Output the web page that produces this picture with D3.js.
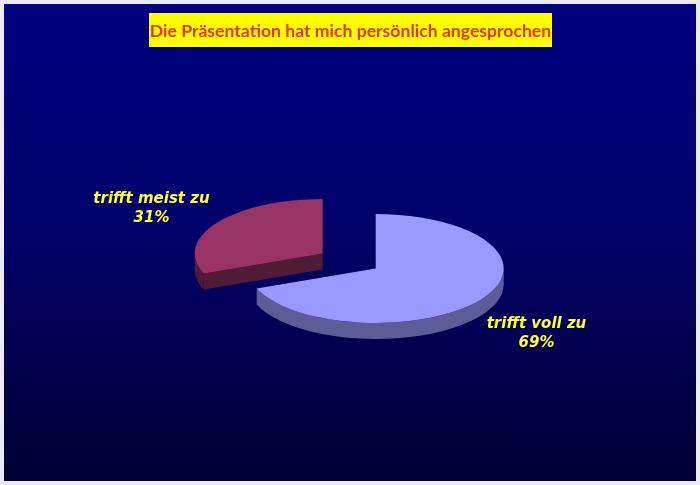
<!DOCTYPE html>
<html><head><meta charset="utf-8">
<script src="https://cdn.jsdelivr.net/npm/d3@7"></script>
<style>html,body{margin:0;padding:0;background:#eceaf6;overflow:hidden}svg{display:block;filter:blur(0.4px)}</style>
</head><body><svg id="c" width="700" height="485"></svg>
<script>
const titleText = "Die Präsentation hat mich persönlich angesprochen";
const categories = ["trifft voll zu", "trifft meist zu"];
const percents = [69, 31];
const topColors = ["#9999ff", "#993366"];
const sideColors = ["#5c5c99", "#4f1b35"];

const svg = d3.select("#c");
svg.append("rect").attr("width",700).attr("height",485).attr("fill","#eceaf6");
const defs = svg.append("defs");
const g = defs.append("linearGradient").attr("id","bg").attr("x1",0).attr("x2",0).attr("y1",0).attr("y2",1);
g.append("stop").attr("offset",0).attr("stop-color","#00007f");
g.append("stop").attr("offset",0.45).attr("stop-color","#00006a");
g.append("stop").attr("offset",1).attr("stop-color","#000035");
svg.append("rect").attr("x",4).attr("y",4).attr("width",692).attr("height",477).attr("fill","url(#bg)");

svg.append("rect").attr("x",149).attr("y",13).attr("width",403).attr("height",34).attr("fill","#ffff00");
svg.append("text").attr("x",350.5).attr("y",36.5).attr("text-anchor","middle")
  .attr("font-family","Lato,sans-serif").attr("font-weight",700).attr("font-size",17.6)
  .attr("fill","#e8330c").text(titleText);

const R = 128, squash = 54.5/128, depth = 16;
const pie = d3.pie().sort(null).value(d=>d);
const slices = pie(percents);
const arc = d3.arc().innerRadius(0).outerRadius(R);
const centers = [[375.7,268.5],[322.7,253.5]];

function wall(a0,a1){
  const p = d3.path(), d = depth/squash, t = a=>a-Math.PI/2;
  p.moveTo(R*Math.sin(a0),-R*Math.cos(a0));
  p.arc(0,0,R,t(a0),t(a1));
  p.lineTo(R*Math.sin(a1),-R*Math.cos(a1)+d);
  p.arc(0,d,R,t(a1),t(a0),true);
  p.closePath();
  return p.toString();
}
function cutFace(a){
  const p = d3.path(), d = depth/squash;
  p.moveTo(0,0);
  p.lineTo(R*Math.sin(a),-R*Math.cos(a));
  p.lineTo(R*Math.sin(a),-R*Math.cos(a)+d);
  p.lineTo(0,d);
  p.closePath();
  return p.toString();
}
slices.forEach((s,i)=>{
  const gr = svg.append("g").attr("transform",`translate(${centers[i]}) scale(1,${squash})`);
  const from = Math.max(s.startAngle,Math.PI/2), to = Math.min(s.endAngle,3*Math.PI/2);
  if(to>from) gr.append("path").attr("d",wall(from,to)).attr("fill",sideColors[i]);
  if(i===1) gr.append("path").attr("d",cutFace(s.startAngle)).attr("fill",sideColors[i]);
  gr.append("path").attr("d",arc(s)).attr("fill",topColors[i]);
});

const labelPos = [[536.5,328],[151.5,202.5]];
slices.forEach((s,i)=>{
  const t = svg.append("text").attr("text-anchor","middle")
    .attr("font-family","'DejaVu Sans',sans-serif").attr("font-weight","bold").attr("font-style","italic")
    .attr("font-size",15).attr("fill","#ffff33");
  t.append("tspan").attr("x",labelPos[i][0]).attr("y",labelPos[i][1]).text(categories[i]);
  t.append("tspan").attr("x",labelPos[i][0]).attr("y",labelPos[i][1]+19).text(percents[i]+"%");
});
</script></body></html>
